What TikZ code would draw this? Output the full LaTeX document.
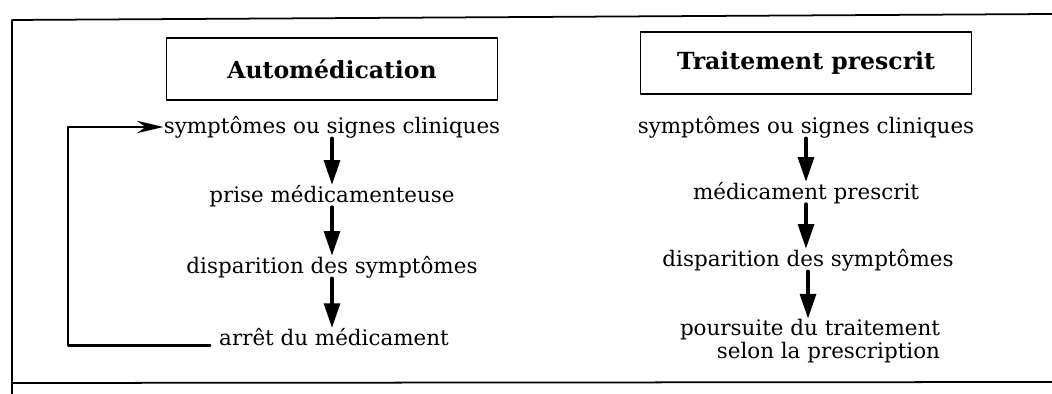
\documentclass[tikz,border=0pt]{standalone}
\usepackage{fontspec}
\setmainfont{DejaVu Serif}
\usetikzlibrary{calc}
\usetikzlibrary{arrows.meta}

\begin{document}
\begin{tikzpicture}[x=0.02cm, y=-0.02cm, line cap = round, line join = round, >={Triangle[width=9pt,length=14pt]}]
\tikzstyle{title}=[draw=black, line width=0.8pt, minimum width=6.62cm, minimum height=1.24cm, font=\fontsize{13.4}{15}\selectfont\bfseries]
\tikzstyle{stage}=[inner sep=0pt, font=\fontsize{12.2}{13.3}\selectfont]
\tikzstyle{flow}=[line width=2pt, ->]
\tikzstyle{back}=[line width=1.5pt, -{Stealth[length=15pt,width=7pt]}]

\useasboundingbox (0,0) rectangle (1052,394);
% frame
\draw[line width=1pt] (12,394) -- (12,20) -- (1052,14);
\draw[line width=1pt] (12,383) -- (1052,382);

% automedication
\node[title] (auto) at (332,69) {Automédication};
\node[stage] (s1) at (332,127) {symptômes ou signes cliniques};
\node[stage] (p1) at (332,196) {prise médicamenteuse};
\node[stage] (d1) at (332,267) {disparition des symptômes};
\node[stage] (a1) at (334,337) {arrêt du médicament};
\coordinate (loop) at (68,346);

\draw[flow] (s1) -- (p1);
\draw[flow] (p1) -- (d1);
\draw[flow] (d1) -- (d1 |- a1.north);
\draw[back, shorten <=5pt] (a1.base west) -- (a1.base west -| loop) |- (s1.west);

% traitement prescrit
\node[title] (trait) at (806,63) {Traitement prescrit};
\node[stage] (s2) at (806,127) {symptômes ou signes cliniques};
\node[stage] (m2) at (806,193) {médicament prescrit};
\node[stage] (d2) at (808,260) {disparition des symptômes};
\node[stage, align=right] (r2) at (810,341) {poursuite du traitement\\selon la prescription};

\draw[flow] (s2) -- (m2);
\draw[flow] (m2) -- (m2 |- d2.north);
\draw[flow] (d2) -- (d2 |- r2.north);
\end{tikzpicture}
\end{document}
